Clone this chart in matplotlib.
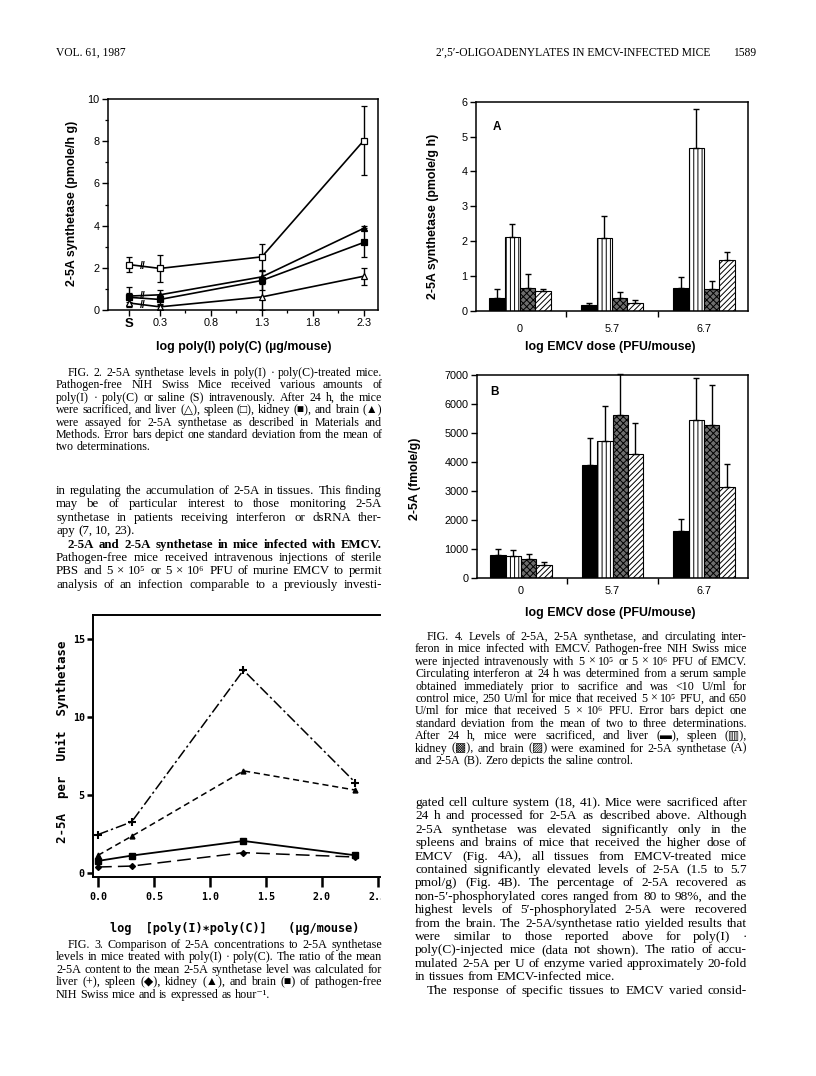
"""J. Virol. 1987 page 1589: Fig. 2, Fig. 3 and Fig. 4 (2-5A / 2-5A synthetase) with captions and body text."""
import numpy as np
import matplotlib
matplotlib.use("Agg")
import matplotlib.pyplot as plt
from matplotlib.patches import Rectangle
from matplotlib.ticker import FixedLocator

W, H = 816, 1076
SERIF = ["Liberation Serif", "DejaVu Serif", "DejaVu Sans"]
SANS = ["Liberation Sans", "DejaVu Sans"]
MONO = ["DejaVu Sans Mono"]
LABEL_SIZE = 8.9

# ---- Fig. 2: 2-5A synthetase (pmole/h g) vs log poly(I).poly(C)
f2_x = [0.0, 0.3, 1.3, 2.3]
f2_xticks = [0.0, 0.3, 0.8, 1.3, 1.8, 2.3]
f2_xticklabels = ["S", "0.3", "0.8", "1.3", "1.8", "2.3"]
f2_spleen = [2.15, 1.97, 2.52, 8.03]
f2_spleen_sd = [0.37, 0.65, 0.63, 1.65]
f2_brain = [0.66, 0.72, 1.57, 3.87]
f2_brain_sd = [0.42, 0.22, 0.30, 0.10]
f2_kidney = [0.60, 0.50, 1.40, 3.20]
f2_kidney_sd = [0.20, 0.20, 0.45, 0.68]
f2_liver = [0.33, 0.15, 0.62, 1.60]
f2_liver_sd = [0.20, 0.10, 0.60, 0.40]

# ---- Fig. 3: 2-5A per unit synthetase
f3_x = [0.0, 0.3, 1.3, 2.3]
f3_xticks = [0.0, 0.5, 1.0, 1.5, 2.0, 2.5]
f3_liver = [2.47, 3.28, 13.0, 5.80]
f3_kidney = [1.14, 2.36, 6.55, 5.32]
f3_brain = [0.78, 1.12, 2.06, 1.14]
f3_spleen = [0.39, 0.45, 1.31, 1.03]

# ---- Fig. 4: bars per EMCV dose group
f4_groups = ["0", "5.7", "6.7"]
f4a_liver = [0.36, 0.17, 0.65]
f4a_liver_err = [0.26, 0.07, 0.33]
f4a_spleen = [2.13, 2.08, 4.66]
f4a_spleen_err = [0.35, 0.65, 1.12]
f4a_kidney = [0.65, 0.38, 0.63]
f4a_kidney_err = [0.40, 0.17, 0.23]
f4a_brain = [0.57, 0.22, 1.46]
f4a_brain_err = [0.06, 0.10, 0.24]
f4b_liver = [810, 3900, 1630]
f4b_liver_err = [195, 935, 400]
f4b_spleen = [775, 4720, 5460]
f4b_spleen_err = [195, 1200, 1440]
f4b_kidney = [665, 5630, 5290]
f4b_kidney_err = [170, 1400, 1370]
f4b_brain = [435, 4260, 3140]
f4b_brain_err = [115, 1085, 800]

header_left = "VOL. 61, 1987"
header_right = "2′,5′-OLIGOADENYLATES IN EMCV-INFECTED MICE"
page_no = "1589"

cap2 = [
    "FIG. 2. 2-5A synthetase levels in poly(I) · poly(C)-treated mice.",
    "Pathogen-free NIH Swiss Mice received various amounts of",
    "poly(I) · poly(C) or saline (S) intravenously. After 24 h, the mice",
    "were sacrificed, and liver (△), spleen (□), kidney (■), and brain (▲)",
    "were assayed for 2-5A synthetase as described in Materials and",
    "Methods. Error bars depict one standard deviation from the mean of",
    "two determinations.",
]
body_left = [
    "in regulating the accumulation of 2-5A in tissues. This finding",
    "may be of particular interest to those monitoring 2-5A",
    "synthetase in patients receiving interferon or dsRNA ther-",
    "apy (7, 10, 23).",
    "2-5A and 2-5A synthetase in mice infected with EMCV.",
    "Pathogen-free mice received intravenous injections of sterile",
    "PBS and 5 × 10⁵ or 5 × 10⁶ PFU of murine EMCV to permit",
    "analysis of an infection comparable to a previously investi-",
]
cap3 = [
    "FIG. 3. Comparison of 2-5A concentrations to 2-5A synthetase",
    "levels in mice treated with poly(I) · poly(C). The ratio of the mean",
    "2-5A content to the mean 2-5A synthetase level was calculated for",
    "liver (+), spleen (◆), kidney (▲), and brain (■) of pathogen-free",
    "NIH Swiss mice and is expressed as hour⁻¹.",
]
cap4 = [
    "FIG. 4. Levels of 2-5A, 2-5A synthetase, and circulating inter-",
    "feron in mice infected with EMCV. Pathogen-free NIH Swiss mice",
    "were injected intravenously with 5 × 10⁵ or 5 × 10⁶ PFU of EMCV.",
    "Circulating interferon at 24 h was determined from a serum sample",
    "obtained immediately prior to sacrifice and was <10 U/ml for",
    "control mice, 250 U/ml for mice that received 5 × 10⁵ PFU, and 650",
    "U/ml for mice that received 5 × 10⁶ PFU. Error bars depict one",
    "standard deviation from the mean of two to three determinations.",
    "After 24 h, mice were sacrificed, and liver (▬), spleen (▥),",
    "kidney (▩), and brain (▨) were examined for 2-5A synthetase (A)",
    "and 2-5A (B). Zero depicts the saline control.",
]
body_right = [
    "gated cell culture system (18, 41). Mice were sacrificed after",
    "24 h and processed for 2-5A as described above. Although",
    "2-5A synthetase was elevated significantly only in the",
    "spleens and brains of mice that received the higher dose of",
    "EMCV (Fig. 4A), all tissues from EMCV-treated mice",
    "contained significantly elevated levels of 2-5A (1.5 to 5.7",
    "pmol/g) (Fig. 4B). The percentage of 2-5A recovered as",
    "non-5′-phosphorylated cores ranged from 80 to 98%, and the",
    "highest levels of 5′-phosphorylated 2-5A were recovered",
    "from the brain. The 2-5A/synthetase ratio yielded results that",
    "were similar to those reported above for poly(I) ·",
    "poly(C)-injected mice (data not shown). The ratio of accu-",
    "mulated 2-5A per U of enzyme varied approximately 20-fold",
    "in tissues from EMCV-infected mice.",
    "The response of specific tissues to EMCV varied consid-",
]

fig = plt.figure(figsize=(W / 100, H / 100), dpi=100)
fig.patch.set_facecolor("white")
renderer = fig.canvas.get_renderer()


def box(l, r, t, b):
    return [l / W, 1 - b / H, (r - l) / W, (b - t) / H]


def word_widths(words, size, weight):
    objs = [fig.text(0, 0, w, fontsize=size, fontweight=weight, family=SERIF)
            for w in words]
    widths = [o.get_window_extent(renderer).width for o in objs]
    for o in objs:
        o.remove()
    return widths


def text_line(x0, x1, y, s, size, weight="normal", indent=0, justify=True):
    words = s.split()
    widths = word_widths(words, size, weight)
    start = x0 + indent
    if justify and len(words) > 1:
        gap = (x1 - start - sum(widths)) / (len(words) - 1)
    else:
        gap = size * 100 / 72 * 0.25
    x = start
    for w, wd in zip(words, widths):
        fig.text(x / W, 1 - y / H, w, fontsize=size, fontweight=weight,
                 family=SERIF, va="baseline", ha="left")
        x += wd + gap


def paragraph(x0, x1, y0, step, lines, base, first_indent=False, last_free=(),
              bold=(), indents=()):
    # pick one font size per paragraph so that the densest line just fits
    ratios = []
    for i, s in enumerate(lines):
        if i in last_free:
            continue
        ind = 12 if (i == 0 and first_indent) or i in indents else 0
        words = s.split()
        wd = word_widths(words, base, "bold" if i in bold else "normal")
        natural = sum(wd) + (len(words) - 1) * base * 100 / 72 * 0.25
        ratios.append((x1 - x0 - ind) / natural)
    size = base * min(ratios) * 0.99
    for i, s in enumerate(lines):
        ind = 12 if (i == 0 and first_indent) or i in indents else 0
        text_line(x0, x1, y0 + i * step, s, size,
                  weight="bold" if i in bold else "normal",
                  indent=ind, justify=i not in last_free)


# header
fig.text(56 / W, 1 - 56 / H, header_left, fontsize=8.3, family=SERIF)
fig.text(436 / W, 1 - 56 / H, header_right, fontsize=8.3, family=SERIF)
fig.text(733 / W, 1 - 56 / H, page_no, fontsize=8.3, family=SERIF)

# ---------------- Fig. 2
ax2 = fig.add_axes(box(108, 378, 99, 310))
series2 = [(f2_spleen, f2_spleen_sd, "s", "white", True),
           (f2_brain, f2_brain_sd, "^", "black", True),
           (f2_kidney, f2_kidney_sd, "s", "black", False),
           (f2_liver, f2_liver_sd, "^", "white", True)]
for vals, sd, mk, fc, brk in series2:
    ax2.errorbar(f2_x, vals, yerr=sd, color="black", lw=1.2, elinewidth=1.0,
                 capsize=2.5, marker=mk, ms=4, mfc=fc, mec="black", mew=0.9)
    if brk:
        ym = vals[0] + (vals[1] - vals[0]) * 0.43
        ax2.text(0.13, ym, "//", fontsize=7.5, fontweight="bold", family=SANS,
                 ha="center", va="center")
ax2.set_xlim(-0.21, 2.44)
ax2.set_ylim(0, 10)
ax2.set_xticks(f2_xticks, labels=f2_xticklabels)
ax2.xaxis.set_minor_locator(FixedLocator([0.55, 1.05, 1.55, 2.05]))
ax2.set_yticks([0, 2, 4, 6, 8, 10])
ax2.yaxis.set_minor_locator(FixedLocator([1, 3, 5, 7, 9]))
ax2.tick_params(direction="out", length=4, width=1, labelsize=7.8, pad=2)
ax2.tick_params(which="minor", direction="out", length=2.5, width=0.9)
for lab in ax2.get_xticklabels() + ax2.get_yticklabels():
    lab.set_family(SANS)
s_lab = ax2.get_xticklabels()[0]
s_lab.set_fontweight("bold")
s_lab.set_fontsize(9.5)
for sp in ax2.spines.values():
    sp.set_linewidth(1.1)
ax2.set_ylabel("2-5A synthetase (pmole/h g)", fontsize=LABEL_SIZE, fontweight="bold",
               family=SANS, va="center")
ax2.yaxis.set_label_coords(-0.133, 0.507)
ax2.set_xlabel("log poly(I) poly(C) (µg/mouse)", fontsize=LABEL_SIZE, fontweight="bold",
               family=SANS, va="center")
ax2.xaxis.set_label_coords(0.504, -0.175)

# ---------------- Fig. 4 A and B
bar_w = 0.167
bar_styles = [dict(facecolor="black", hatch=None),
              dict(facecolor="white", hatch="||||"),
              dict(facecolor="#6e6e6e", hatch="xxxxx"),
              dict(facecolor="white", hatch="//////")]
plt.rcParams["hatch.linewidth"] = 0.7


def bar_panel(ax, series, errs, ymax, yticks, letter, letter_xy):
    xs = np.arange(len(f4_groups))
    for i, (vals, err) in enumerate(zip(series, errs)):
        pos = xs + (i - 1.5) * bar_w
        ax.bar(pos, vals, width=bar_w, edgecolor="black", linewidth=0.8,
               **bar_styles[i])
        ax.errorbar(pos, vals, yerr=[np.zeros(len(vals)), err], fmt="none",
                    ecolor="black", elinewidth=1.0, capsize=2.5, clip_on=False)
    ax.set_xlim(-0.48, 2.48)
    ax.set_ylim(0, ymax)
    ax.set_xticks(xs, labels=f4_groups)
    ax.xaxis.set_minor_locator(FixedLocator([0.5, 1.5]))
    ax.set_yticks(yticks)
    ax.tick_params(axis="x", which="major", length=0, pad=9, labelsize=7.8)
    ax.tick_params(axis="x", which="minor", direction="out", length=4, width=1)
    ax.tick_params(axis="y", direction="out", length=4, width=1, labelsize=7.8, pad=2)
    for lab in ax.get_xticklabels() + ax.get_yticklabels():
        lab.set_family(SANS)
    for sp in ax.spines.values():
        sp.set_linewidth(1.1)
    ax.text(letter_xy[0], letter_xy[1], letter, transform=ax.transAxes,
            fontsize=8.5, fontweight="bold", family=SANS, ha="center", va="center")


ax4a = fig.add_axes(box(476, 748, 101.7, 311))
bar_panel(ax4a, [f4a_liver, f4a_spleen, f4a_kidney, f4a_brain],
          [f4a_liver_err, f4a_spleen_err, f4a_kidney_err, f4a_brain_err],
          6, range(0, 7), "A", (0.077, 0.878))
ax4a.set_ylabel("2-5A synthetase (pmole/g h)", fontsize=LABEL_SIZE, fontweight="bold",
                family=SANS, va="center")
ax4a.yaxis.set_label_coords(-0.158, 0.45)
ax4a.set_xlabel("log EMCV dose (PFU/mouse)", fontsize=LABEL_SIZE, fontweight="bold",
                family=SANS, va="center")
ax4a.xaxis.set_label_coords(0.493, -0.172)

ax4b = fig.add_axes(box(477, 748, 375, 578))
bar_panel(ax4b, [f4b_liver, f4b_spleen, f4b_kidney, f4b_brain],
          [f4b_liver_err, f4b_spleen_err, f4b_kidney_err, f4b_brain_err],
          7000, range(0, 7001, 1000), "B", (0.066, 0.916))
ax4b.tick_params(axis="x", which="major", pad=6)
ax4b.set_ylabel("2-5A (fmole/g)", fontsize=LABEL_SIZE, fontweight="bold",
                family=SANS, va="center")
ax4b.yaxis.set_label_coords(-0.229, 0.49)
ax4b.set_xlabel("log EMCV dose (PFU/mouse)", fontsize=LABEL_SIZE, fontweight="bold",
                family=SANS, va="center")
ax4b.xaxis.set_label_coords(0.49, -0.172)

# ---------------- Fig. 3
ax3 = fig.add_axes(box(93, 380, 615, 877))
ax3.plot(f3_x, f3_liver, color="black", lw=1.1, dashes=(7, 2, 1.5, 2),
         marker="+", ms=6, mew=1.5)
ax3.plot(f3_x, f3_kidney, color="black", lw=1.1, dashes=(4, 2.5),
         marker="^", ms=3.5)
ax3.plot(f3_x, f3_brain, color="black", lw=1.3, marker="s", ms=4.5)
ax3.plot(f3_x, f3_spleen, color="black", lw=1.1, dashes=(9, 4),
         marker="D", ms=3)
ax3.set_xlim(-0.045, 2.52)
ax3.set_ylim(-0.25, 16.54)
ax3.set_xticks(f3_xticks, labels=[f"{v:.1f}" for v in f3_xticks])
ax3.set_yticks([0, 5, 10, 15])
ax3.tick_params(axis="x", direction="out", length=7, width=1.8, labelsize=7.2, pad=4)
ax3.tick_params(axis="y", direction="out", length=4, width=1.8, labelsize=7.2, pad=2)
for lab in ax3.get_xticklabels() + ax3.get_yticklabels():
    lab.set_family(MONO)
    lab.set_fontweight("bold")
ax3.spines["right"].set_visible(False)
for sp in ax3.spines.values():
    sp.set_linewidth(1.4)
ax3.set_ylabel("2-5A  per  Unit  Synthetase", fontsize=9, fontweight="bold",
               family=MONO, va="center")
ax3.yaxis.set_label_coords(-0.105, 0.515)
ax3.set_xlabel("log  [poly(I)∗poly(C)]   (µg/mouse)", fontsize=8.6,
               fontweight="bold", family=MONO, va="center")
ax3.xaxis.set_label_coords(0.495, -0.195)
# the printed figure is cut at the column edge
fig.add_artist(Rectangle((381 / W, 1 - 910 / H), 25 / W, 30 / H,
                         transform=fig.transFigure, facecolor="white",
                         edgecolor="none", zorder=20))

# ---------------- text columns
LX0, LX1 = 56, 382
RX0, RX1 = 415, 747
paragraph(LX0, LX1, 376, 12.4, cap2, 8.0, first_indent=True, last_free=(6,))
paragraph(LX0, LX1, 494, 13.4, body_left, 8.8, last_free=(3,), bold=(4,), indents=(4,))
paragraph(LX0, LX1, 948, 12.4, cap3, 8.0, first_indent=True, last_free=(4,))
paragraph(RX0, RX1, 640, 12.4, cap4, 8.0, first_indent=True, last_free=(10,))
paragraph(RX0, RX1, 806, 13.4, body_right, 8.8, last_free=(13,), indents=(14,))

fig.savefig("out.png", dpi=100, facecolor="white")
